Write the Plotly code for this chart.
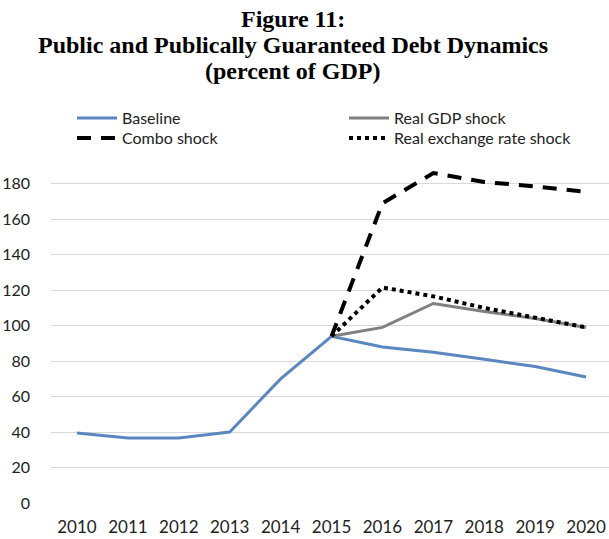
import plotly.graph_objects as go

years = ["2010", "2011", "2012", "2013", "2014", "2015", "2016", "2017", "2018", "2019", "2020"]
baseline = [39.5, 36.7, 36.7, 40, 70, 94, 88, 85, 81, 77, 71]
shock_years = ["2015", "2016", "2017", "2018", "2019", "2020"]
real_gdp = [94, 99, 112.5, 108, 104, 99]
combo = [94, 169, 186, 181, 178.5, 175.5]
real_fx = [94, 121.5, 116.5, 110, 104.5, 99]

y_ticks = [0, 20, 40, 60, 80, 100, 120, 140, 160, 180]
title_lines = ["Figure 11:", "Public and Publically Guaranteed Debt Dynamics", "(percent of GDP)"]

W, H = 609, 539
ML, MR, MT, MB = 51, 0, 166, 36
PW, PH = W - ML - MR, H - MT - MB


def px(xf):
    return (xf - ML) / PW


def py(yf):
    return 1 + (MT - yf) / PH


fig = go.Figure()
fig.add_trace(go.Scatter(x=years, y=baseline, mode="lines", name="Baseline", legend="legend",
                         line=dict(color="#5B87C0", width=3)))
fig.add_trace(go.Scatter(x=shock_years, y=real_gdp, mode="lines", name="Real GDP shock", legend="legend2",
                         line=dict(color="#808080", width=3)))
fig.add_trace(go.Scatter(x=shock_years, y=combo, mode="lines", name="Combo shock", legend="legend3",
                         line=dict(color="black", width=4, dash="14px,10px")))
fig.add_trace(go.Scatter(x=shock_years, y=real_fx, mode="lines", name="Real exchange rate shock", legend="legend4",
                         line=dict(color="black", width=4, dash="dot")))

title_y = [19, 45, 71]
for t, yp in zip(title_lines, title_y):
    fig.add_annotation(text="<b>" + t + "</b>", xref="paper", yref="paper",
                       x=px(293), y=py(yp), xanchor="center", yanchor="middle",
                       showarrow=False, font=dict(family="Liberation Serif", size=24, color="black"))

leg_font = dict(family="Lato", size=16, color="#222")


def leg(xf, yf):
    return dict(x=px(xf), y=py(yf), xanchor="left", yanchor="top", font=leg_font,
                itemwidth=40, bgcolor="rgba(0,0,0,0)")


fig.update_layout(
    width=W, height=H,
    margin=dict(l=ML, r=MR, t=MT, b=MB),
    paper_bgcolor="white", plot_bgcolor="white",
    showlegend=True,
    legend=leg(72, 101),
    legend2=leg(344, 101),
    legend3=leg(72, 121),
    legend4=leg(344, 121),
    xaxis=dict(type="category", range=[-0.51, 10.45], showgrid=False, showline=False, zeroline=False,
               automargin=False,
               tickfont=dict(family="Lato", size=17, color="#222"), ticks="", ticklabelstandoff=12),
    yaxis=dict(range=[0, 190], tickvals=y_ticks, showgrid=True, gridcolor="#D9D9D9", gridwidth=1,
               zeroline=False, showline=False, ticklabelstandoff=20, automargin=False,
               tickfont=dict(family="Lato", size=16, color="#222")),
)

fig.write_html("out.html", config={"displayModeBar": False},
               post_script="document.body.style.margin='0';document.body.style.overflow='hidden';")
